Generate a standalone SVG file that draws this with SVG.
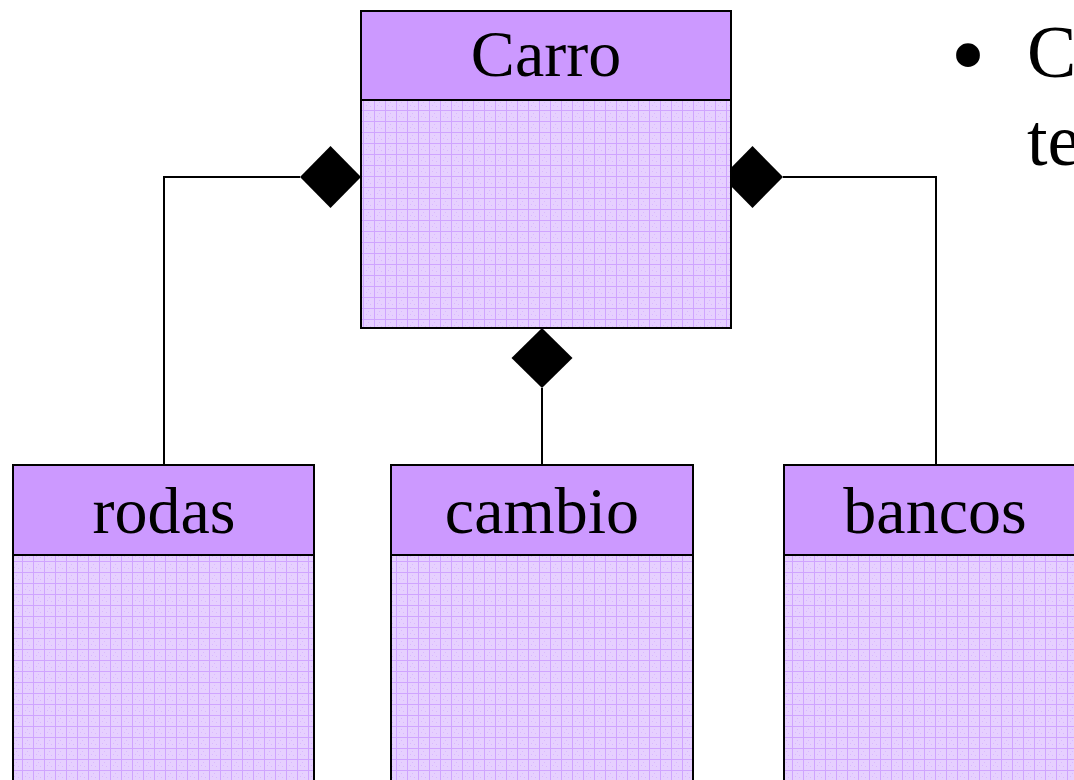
<svg xmlns="http://www.w3.org/2000/svg" width="1074" height="780" viewBox="0 0 1074 780">
  <defs>
    <!-- fine lavender grid used for class bodies -->
    <pattern id="grid" x="0" y="0" width="11" height="11" patternUnits="userSpaceOnUse">
      <rect width="11" height="11" fill="#e6d0ff"/>
      <rect x="0" y="0" width="11" height="1" fill="#cfa4ff"/>
      <rect x="0" y="0" width="1" height="11" fill="#cfa4ff"/>
      <rect x="5" y="3" width="1" height="1" fill="#d9b8ff"/>
      <rect x="3" y="6" width="1" height="1" fill="#d9b8ff"/>
      <rect x="7" y="7" width="1" height="1" fill="#d9b8ff"/>
    </pattern>
    <style>
      .hdr { fill: #cc99ff; stroke: #000; stroke-width: 2; }
      .body { fill: url(#grid); stroke: #000; stroke-width: 2; }
      .name { font-family: "Liberation Serif", "Times New Roman", serif; font-size: 66px; fill: #000; text-anchor: middle; }
      .bullet { font-family: "Liberation Serif", "Times New Roman", serif; font-size: 74px; fill: #000; }
      .link { fill: none; stroke: #000; stroke-width: 2; }
      .diamond { fill: #000; stroke: none; }
    </style>
  </defs>

  <rect width="1074" height="780" fill="#ffffff"/>

  <!-- composition connectors -->
  <g id="connectors">
    <polyline class="link" points="300,177 164,177 164,465"/>
    <polyline class="link" points="783,177 936,177 936,465"/>
    <line class="link" x1="542" y1="388" x2="542" y2="465"/>
    <polygon class="diamond" points="300,177 330.5,146 361,177 330.5,208"/>
    <polygon class="diamond" points="722,177 752.5,146 783,177 752.5,208"/>
    <polygon class="diamond" points="542,328 572.5,358 542,388 511.5,358"/>
  </g>

  <g id="carro">
    <rect class="body" x="361" y="100" width="370" height="228"/>
    <rect class="hdr" x="361" y="11" width="370" height="89"/>
    <text class="name" x="546" y="76">Carro</text>
  </g>

  <g id="rodas">
    <rect class="body" x="13" y="555" width="301" height="240"/>
    <rect class="hdr" x="13" y="465" width="301" height="90"/>
    <text class="name" x="164" y="533">rodas</text>
  </g>

  <g id="cambio">
    <rect class="body" x="391" y="555" width="302" height="240"/>
    <rect class="hdr" x="391" y="465" width="302" height="90"/>
    <text class="name" x="542" y="533">cambio</text>
  </g>

  <g id="bancos">
    <rect class="body" x="784" y="555" width="302" height="240"/>
    <rect class="hdr" x="784" y="465" width="302" height="90"/>
    <text class="name" x="935" y="533">bancos</text>
  </g>

  <g id="bullet-text">
    <text class="bullet" x="968" y="88" text-anchor="middle" style="font-size:100px">•</text>
    <text class="bullet" x="1027" y="77">C</text>
    <text class="bullet" x="1027" y="165">te</text>
  </g>
</svg>
